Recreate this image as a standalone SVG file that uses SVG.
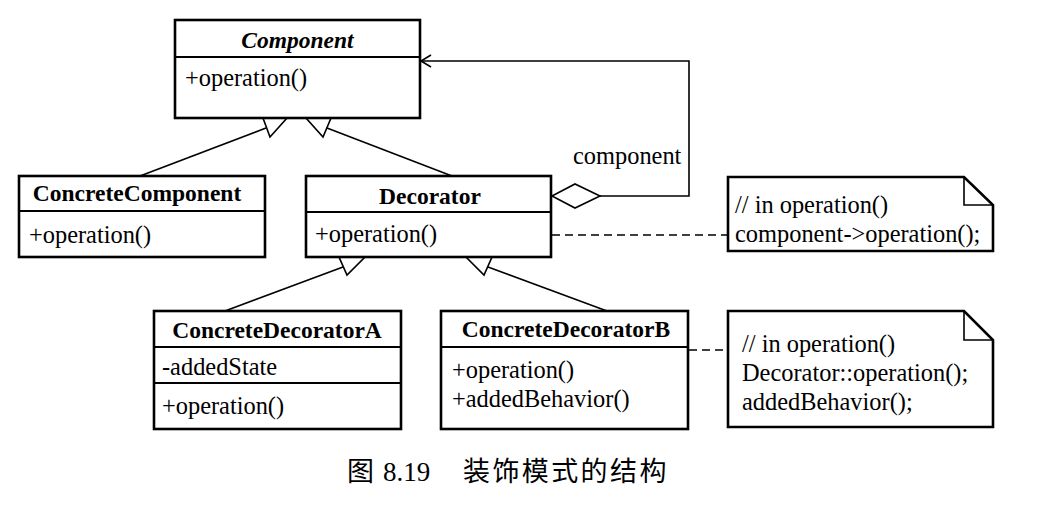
<svg xmlns="http://www.w3.org/2000/svg" width="1045" height="514" viewBox="0 0 1045 514">
<style>
.box{fill:#fff;stroke:#000;stroke-width:2.6}
.div{stroke:#000;stroke-width:2.2}
.t{font-family:"Liberation Serif","Times New Roman",serif;font-size:24.4px;fill:#000}
.b{font-weight:bold;font-size:23.5px}
.c{text-anchor:middle}
.ln{fill:none;stroke:#000;stroke-width:1.6}
.tri{fill:#fff;stroke:#000;stroke-width:1.6;stroke-linejoin:miter}
.dash{fill:none;stroke:#000;stroke-width:1.6;stroke-dasharray:8 5}
.cap{font-family:"Liberation Serif","Noto Sans CJK SC",serif;font-size:27px;fill:#000}
</style>
<rect width="1045" height="514" fill="#fff"/>
<g id="connectors">
  <path class="ln" d="M140,176 L266,128"/>
  <polygon class="tri" points="263,118 287,118 270,137"/>
  <path class="ln" d="M452,176 L327,128"/>
  <polygon class="tri" points="306,118 331,118 323,137"/>
  <path class="ln" d="M225,311 L343,267"/>
  <polygon class="tri" points="339,257 365,257 347,275"/>
  <path class="ln" d="M607,311 L488,267"/>
  <polygon class="tri" points="466,257 492,257 484,275"/>
  <path class="ln" d="M421,61 L689,61 L689,196 L600,196"/>
  <path class="ln" d="M431,55 L421,61 L431,67"/>
  <polygon class="tri" points="552,196 575,184 600,196 575,208"/>
  <text class="t" x="573" y="164">component</text>
  <path class="dash" d="M552,235 L728,235"/>
  <path class="dash" d="M689,350 L728,350"/>
</g>
<g id="Component">
  <rect class="box" x="175" y="20" width="245" height="98"/>
  <line class="div" x1="175" y1="57" x2="420" y2="57"/>
  <text class="t b c" x="297.5" y="48" font-style="italic">Component</text>
  <text class="t" x="185" y="86">+operation()</text>
</g>
<g id="ConcreteComponent">
  <rect class="box" x="19" y="176" width="246" height="81"/>
  <line class="div" x1="19" y1="211" x2="265" y2="211"/>
  <text class="t b c" x="137" y="201">ConcreteComponent</text>
  <text class="t" x="29" y="243">+operation()</text>
</g>
<g id="Decorator">
  <rect class="box" x="306" y="176" width="245" height="81"/>
  <line class="div" x1="306" y1="212" x2="551" y2="212"/>
  <text class="t b c" x="430" y="204">Decorator</text>
  <text class="t" x="315" y="242">+operation()</text>
</g>
<g id="ConcreteDecoratorA">
  <rect class="box" x="154" y="311" width="247" height="118"/>
  <line class="div" x1="154" y1="347" x2="401" y2="347"/>
  <line class="div" x1="154" y1="383" x2="401" y2="383"/>
  <text class="t b c" x="277" y="338">ConcreteDecoratorA</text>
  <text class="t" x="162" y="375">-addedState</text>
  <text class="t" x="162" y="414">+operation()</text>
</g>
<g id="ConcreteDecoratorB">
  <rect class="box" x="441" y="311" width="247" height="118"/>
  <line class="div" x1="441" y1="347" x2="688" y2="347"/>
  <text class="t b c" x="566" y="337">ConcreteDecoratorB</text>
  <text class="t" x="452" y="378">+operation()</text>
  <text class="t" x="452" y="407">+addedBehavior()</text>
</g>
<g id="note1">
  <path class="box" d="M728,177 L964,177 L993,205 L993,251 L728,251 Z"/>
  <path class="ln" stroke-width="2.2" d="M964,177 L964,205 L993,205"/>
  <text class="t" x="735" y="213">// in operation()</text>
  <text class="t" x="735" y="242">component-&gt;operation();</text>
</g>
<g id="note2">
  <path class="box" d="M728,311 L964,311 L993,340 L993,427 L728,427 Z"/>
  <path class="ln" stroke-width="2.2" d="M964,311 L964,340 L993,340"/>
  <text class="t" x="742" y="352">// in operation()</text>
  <text class="t" x="742" y="381">Decorator::operation();</text>
  <text class="t" x="742" y="410">addedBehavior();</text>
</g>
<text class="cap" y="481"><tspan x="347">图</tspan><tspan x="383">8.19</tspan><tspan x="463" letter-spacing="2.4">装饰模式的结构</tspan></text>
</svg>
